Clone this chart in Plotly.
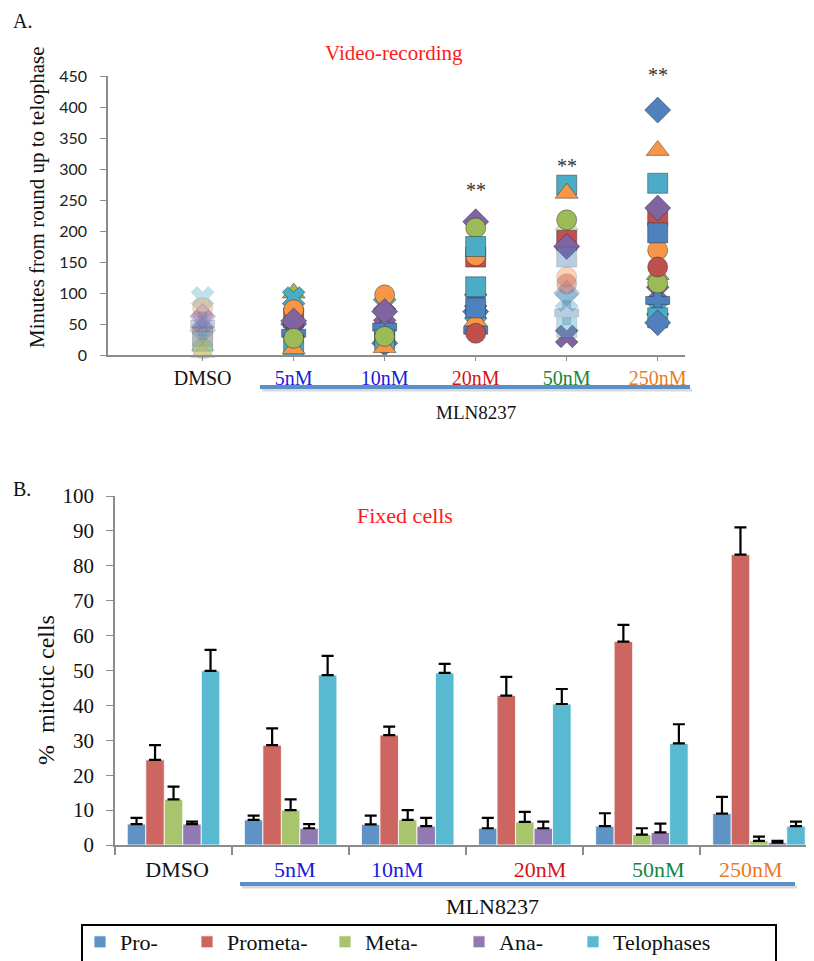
import plotly.graph_objects as go

# ---------------- data ----------------
top_categories = ["DMSO", "5nM", "10nM", "20nM", "50nM", "250nM"]
top_cat_pos = [1, 2, 3, 4, 5, 6]

dmso_min = [40, 30, 15, 55, 92, 76, 50, 22, 4, 62, 10]
nm5_min = [50, 60, 100, 45, 92, 73, 35, 15, 10, 55, 27]
nm10_min = [19, 36, 53, 65, 80, 97, 45, 25, 12, 70, 30]
nm20_min = [70, 158, 45, 88, 50, 160, 40, 110, 55, 215, 205, 76, 35, 175]
nm50_min = [100, 185, 210, 30, 88, 126, 68, 274, 261, 175, 218, 158, 115, 44]
nm250_min = [395, 225, 130, 100, 75, 169, 88, 277, 330, 237, 116, 197, 142, 60, 52]
minutes = [dmso_min, nm5_min, nm10_min, nm20_min, nm50_min, nm250_min]

sig_labels = ["**", "**", "**"]
sig_x = [4, 5, 6]
sig_y = [266, 326, 473]

bar_categories = ["DMSO", "5nM", "10nM", "20nM", "50nM", "250nM"]
phases = ["Pro-", "Prometa-", "Meta-", "Ana-", "Telophases"]
pro = [6.0, 7.2, 5.9, 4.8, 5.4, 9.0]
pro_err = [1.8, 1.2, 2.5, 3.0, 3.7, 4.8]
prometa = [24.4, 28.6, 31.5, 42.8, 58.3, 83.2]
prometa_err = [4.2, 4.8, 2.4, 5.4, 4.8, 7.8]
meta = [13.1, 10.0, 7.2, 6.6, 3.0, 1.2]
meta_err = [3.6, 3.1, 2.8, 2.9, 1.8, 1.2]
ana = [6.0, 4.8, 5.4, 4.8, 3.6, 0.7]
ana_err = [0.7, 1.2, 2.4, 1.9, 2.5, 0.5]
telo = [49.9, 48.7, 49.3, 40.4, 29.1, 5.4]
telo_err = [6.0, 5.5, 2.6, 4.3, 5.5, 1.3]

# ---------------- styles ----------------
SERIF = "Liberation Serif, Times New Roman, serif"
label_colors = ["#111111", "#1a1adb", "#1a1adb", "#d41414", "#12863f", "#ec7a1e"]
bar_label_offsets = [0.03, 0.035, -0.09, 0.13, 0.14, -0.07]
marker_cycle = [
    ("diamond", "#4F81BD"), ("square", "#C0504D"), ("triangle-up", "#9BBB59"),
    ("x", "#8064A2"), ("x", "#4BACC6"), ("circle", "#F79646"),
    ("cross", "#4F81BD"), ("square", "#4BACC6"), ("triangle-up", "#F79646"),
    ("diamond", "#8064A2"), ("circle", "#9BBB59"), ("square", "#4F81BD"),
    ("circle", "#C0504D"), ("square", "#4BACC6"),
]
faded = {0: "all", 4: {0, 2, 4, 5, 6, 11, 12, 13}}
bar_colors = ["#5F93C6", "#CD6660", "#A8C46C", "#917AB2", "#58B9D0"]
legend_swatch_px = [107, 214, 352, 486, 600]
TOP_YMAX = 450

fig = go.Figure()

# ---------------- top scatter ----------------
for ci, vals in enumerate(minutes):
    syms = [marker_cycle[i % len(marker_cycle)][0] for i in range(len(vals))]
    cols = [marker_cycle[i % len(marker_cycle)][1] for i in range(len(vals))]
    fd = faded.get(ci)
    if fd == "all":
        ops = [0.35] * len(vals)
    elif fd:
        ops = [0.4 if i in fd else 1.0 for i in range(len(vals))]
    else:
        ops = [1.0] * len(vals)
    fig.add_trace(go.Scatter(
        x=[top_cat_pos[ci]] * len(vals), y=vals, mode="markers",
        marker=dict(symbol=syms, color=cols, size=20, opacity=ops,
                    line=dict(color="rgba(40,40,40,0.45)", width=1)),
        xaxis="x", yaxis="y", showlegend=False, cliponaxis=False,
    ))

# ---------------- bottom bars ----------------
series = [(pro, pro_err), (prometa, prometa_err), (meta, meta_err), (ana, ana_err), (telo, telo_err)]
xb = list(range(len(bar_categories)))
legend_ids = ["legend", "legend2", "legend3", "legend4", "legend5"]
for name, (vals, errs), col, lid in zip(phases, series, bar_colors, legend_ids):
    fig.add_trace(go.Bar(
        x=xb, y=vals, name=name, legend=lid,
        marker=dict(color=col, line=dict(color="white", width=0.8)),
        error_y=dict(type="data", array=errs, arrayminus=[0] * len(errs), symmetric=False,
                     color="black", thickness=2.2, width=6),
        xaxis="x2", yaxis="y2",
    ))

# page body has an 8px margin: figure is placed at (8, 8)
OFF = 8
W, H = 814 - OFF, 961 - OFF
def px(x):
    return (x - OFF) / W
def py(y):
    return 1 - (y - OFF) / H

axis_gray = "#8c8c8c"
layout_legends = {}
for lid, sx in zip(legend_ids, legend_swatch_px):
    layout_legends[lid] = dict(orientation="h", x=px(sx - 27), xanchor="left", y=py(942), yanchor="middle",
                               font=dict(family=SERIF, size=22, color="#111"),
                               bgcolor="rgba(0,0,0,0)")

fig.update_layout(
    width=W, height=H, margin=dict(l=0, r=0, t=0, b=0, autoexpand=False),
    paper_bgcolor="white", plot_bgcolor="white",
    barmode="group", bargap=0.21, bargroupgap=0,
    xaxis=dict(domain=[px(108), px(685)], range=[-0.04, 6.30], anchor="y", showgrid=False, zeroline=False,
               showline=True, linecolor=axis_gray, linewidth=1.5,
               tickmode="array", tickvals=top_cat_pos,
               ticktext=[f'<span style="color:{c}">{t}</span>' for t, c in zip(top_categories, label_colors)],
               ticks="outside", ticklen=4, tickcolor=axis_gray,
               tickfont=dict(family=SERIF, size=20)),
    yaxis=dict(domain=[py(355), py(76)], range=[0, TOP_YMAX], anchor="x", dtick=50, showgrid=False, zeroline=False,
               showline=True, linecolor=axis_gray, linewidth=1.5,
               ticks="outside", ticklen=6, tickcolor=axis_gray, ticklabelstandoff=10,
               tickfont=dict(family="Lato", size=16, color="#222")),
    xaxis2=dict(domain=[px(115), 1.0], range=[-0.5, 5.47], anchor="y2", showgrid=False, zeroline=False,
                showline=True, linecolor=axis_gray, linewidth=1.5,
                tickmode="array", tickvals=[v + o for v, o in zip(xb, bar_label_offsets)],
                ticktext=[f'<span style="color:{c}">{t}</span>' for t, c in zip(bar_categories, label_colors)],
                ticks="outside", ticklen=4, tickcolor="rgba(0,0,0,0)",
                minor=dict(tickmode="array", tickvals=[-0.5, 0.5, 1.5, 2.5, 3.5, 4.5],
                           ticks="outside", ticklen=8, tickcolor=axis_gray, tickwidth=1.5),
                tickfont=dict(family=SERIF, size=22)),
    yaxis2=dict(domain=[py(845), py(496)], range=[0, 100], anchor="x2", dtick=10, showgrid=False, zeroline=False,
                showline=True, linecolor=axis_gray, linewidth=1.5,
                ticks="outside", ticklen=7, tickcolor=axis_gray, ticklabelstandoff=8,
                tickfont=dict(family=SERIF, size=21, color="#111")),
    **layout_legends,
)

ann = [
    dict(text="A.", x=px(22), y=py(8), yanchor="top", font=dict(size=20)),
    dict(text="B.", x=px(22), y=py(489), font=dict(size=20)),
    dict(text="Video-recording", x=px(394), y=py(53), font=dict(size=21, color="#ff1a1a")),
    dict(text="Minutes from round up to telophase", x=px(37), y=py(197), textangle=-90, font=dict(size=21)),
    dict(text="MLN8237", x=px(476), y=py(412), font=dict(size=19)),
    dict(text="Fixed cells", x=px(405), y=py(516), font=dict(size=22, color="#ff1a1a")),
    dict(text="%  mitotic cells", x=px(46), y=py(690), textangle=-90, font=dict(size=24)),
    dict(text="MLN8237", x=px(493), y=py(906), font=dict(size=22)),
]
for a in ann:
    f = dict(family=SERIF, color="#111")
    f.update(a.pop("font"))
    ya = a.pop("yanchor", "middle")
    fig.add_annotation(xref="paper", yref="paper", showarrow=False, xanchor="center",
                       yanchor=ya, font=f, **a)
for t, xv, yv in zip(sig_labels, sig_x, sig_y):
    fig.add_annotation(xref="x", yref="y domain", x=xv, y=yv / TOP_YMAX, text=t, showarrow=False,
                       font=dict(family=SERIF, size=20, color="#333"))

# decorative bracket lines and legend frame
for (x0, x1, yy) in [(260, 690, 387), (240, 795, 884)]:
    fig.add_shape(type="line", xref="paper", yref="paper", x0=px(x0 + 2), x1=px(x1 + 2),
                  y0=py(yy + 3), y1=py(yy + 3), line=dict(color="rgba(0,0,0,0.15)", width=3))
    fig.add_shape(type="line", xref="paper", yref="paper", x0=px(x0), x1=px(x1),
                  y0=py(yy), y1=py(yy), line=dict(color="#5b8fc9", width=4))
fig.add_shape(type="rect", xref="paper", yref="paper", x0=px(82), x1=px(776),
              y0=py(985), y1=py(925), line=dict(color="black", width=2))

fig.write_html("out.html")
